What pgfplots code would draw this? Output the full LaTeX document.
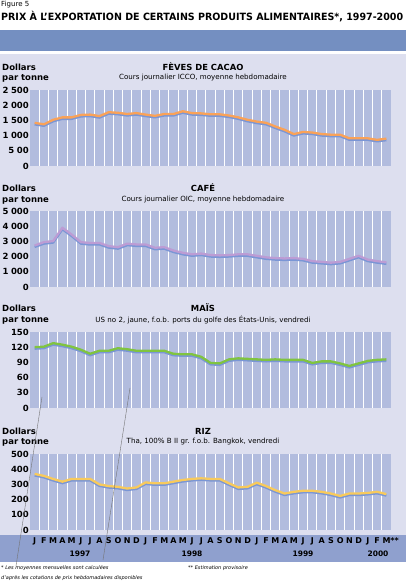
\documentclass[border=0pt]{standalone}
\usepackage{pgfplots}
\pgfplotsset{compat=1.18}
\usepackage{pgfplotstable}
\usepackage{graphicx}
\usepackage{fontspec}
\setmainfont{DejaVu Sans}

\definecolor{plotbg}{RGB}{178,188,222}
\definecolor{panelbg}{RGB}{221,223,239}
\definecolor{headbar}{RGB}{116,143,193}
\definecolor{band}{RGB}{143,160,206}
\definecolor{shadow}{RGB}{122,150,214}
\definecolor{cacaoc}{RGB}{250,162,88}
\definecolor{cafec}{RGB}{188,156,212}
\definecolor{maisc}{RGB}{128,196,64}
\definecolor{rizc}{RGB}{248,202,92}

\newcommand\ts{\hspace{2.6pt}}

% monthly averages, Jan 1997 = 0 ... Mar 2000 = 38
\pgfplotstableread{
m v
0 1420
1 1370
2 1520
3 1600
4 1600
5 1680
6 1690
7 1640
8 1770
9 1750
10 1710
11 1740
12 1690
13 1650
14 1710
15 1710
16 1800
17 1740
18 1730
19 1700
20 1700
21 1660
22 1600
23 1520
24 1460
25 1420
26 1300
27 1190
28 1050
29 1120
30 1100
31 1050
32 1030
33 1030
34 910
35 910
36 910
37 860
38 900
}\cacao

\pgfplotstableread{
m v
0 2730
1 2950
2 3020
3 3900
4 3450
5 2950
6 2890
7 2900
8 2690
9 2620
10 2850
11 2800
12 2800
13 2580
14 2620
15 2400
16 2250
17 2150
18 2200
19 2100
20 2080
21 2100
22 2150
23 2150
24 2050
25 1950
26 1900
27 1880
28 1900
29 1850
30 1700
31 1650
32 1600
33 1650
34 1850
35 2050
36 1800
37 1700
38 1620
}\cafe

\pgfplotstableread{
m v
0 120
1 121
2 128
3 125
4 121
5 115
6 107
7 113
8 113
9 118
10 116
11 113
12 113
13 113
14 113
15 107
16 106
17 106
18 101
19 89
20 88
21 96
22 98
23 97
24 96
25 95
26 96
27 95
28 95
29 95
30 89
31 92
32 92
33 88
34 83
35 88
36 93
37 95
38 96
}\mais

\pgfplotstableread{
m v
0 369
1 356
2 336
3 318
4 336
5 336
6 336
7 300
8 289
9 284
10 273
11 280
12 313
13 307
14 307
15 318
16 329
17 336
18 340
19 336
20 336
21 307
22 280
23 284
24 311
25 289
26 262
27 240
28 251
29 258
30 258
31 251
32 240
33 224
34 240
35 240
36 244
37 251
38 236
}\riz

\pgfplotsset{panel/.style={
  scale only axis, width=361pt, height=76pt,
  anchor=south west,
  xmin=-0.5, xmax=38.5, ymin=0,
  axis background/.style={fill=plotbg},
  axis line style={draw=none},
  major tick length=0pt,
  xtick={0.5,1.5,...,37.5}, xticklabels={},
  xmajorgrids, major grid style={white, line width=0.9pt},
  yticklabel style={font=\bfseries\fontsize{8.5}{9}\selectfont, inner sep=1pt},
  every axis plot/.append style={line width=2.3pt, no markers, line join=round},
}}

\begin{document}
\begin{tikzpicture}[x=1pt,y=1pt]
\path[use as bounding box] (0,0) rectangle (406,583);
\fill[headbar] (0,532) rectangle (406,553);
\fill[panelbg] (0,48) rectangle (406,529);
\fill[band] (0,21) rectangle (406,48);

\node[anchor=west, inner sep=0, font=\fontsize{7}{8}\selectfont] at (1,578) {Figure 5};
\node[anchor=west, inner sep=0] at (1,566)
  {\resizebox{402pt}{\height}{\fontsize{10}{12}\selectfont\bfseries PRIX À L'EXPORTATION DE CERTAINS PRODUITS ALIMENTAIRES*, 1997-2000}};

% panel headings
\foreach \yt/\ys/\ti/\su in {
  516/505/{FÈVES DE CACAO}/{Cours journalier ICCO, moyenne hebdomadaire},
  395/383/{CAFÉ}/{Cours journalier OIC, moyenne hebdomadaire},
  275/263/{MAÏS}/{US no 2, jaune, f.o.b. ports du golfe des États-Unis, vendredi},
  152/141/{RIZ}/{Tha, 100\% B II gr. f.o.b. Bangkok, vendredi}} {
  \node[anchor=west, inner sep=0, font=\bfseries\fontsize{8.5}{9}\selectfont] at (2,\yt) {Dollars};
  \node[anchor=west, inner sep=0, font=\bfseries\fontsize{8.5}{9}\selectfont] at (2,\ys) {par tonne};
  \node[inner sep=0, font=\bfseries\fontsize{8.4}{9}\selectfont] at (203,\yt) {\ti};
  \node[inner sep=0, font=\fontsize{7.1}{8}\selectfont] at (203,\ys) {\su};
}

\begin{axis}[panel, at={(30pt,417pt)}, ymax=2500,
  ytick={0,500,...,2500},
  yticklabels={0,5\ts 00,1\ts 000,1\ts 500,2\ts 000,2\ts 500}]
  \addplot[shadow, yshift=-1.5pt] table[x=m,y=v]{\cacao};
  \addplot[cacaoc] table[x=m,y=v]{\cacao};
\end{axis}

\begin{axis}[panel, at={(30pt,296pt)}, ymax=5000,
  ytick={0,1000,...,5000},
  yticklabels={0,1\ts 000,2\ts 000,3\ts 000,4\ts 000,5\ts 000}]
  \addplot[shadow, yshift=-1.5pt] table[x=m,y=v]{\cafe};
  \addplot[cafec] table[x=m,y=v]{\cafe};
\end{axis}

\begin{axis}[panel, at={(30pt,175pt)}, ymax=150,
  ytick={0,30,...,150},
  yticklabels={0,30,60,90,120,150}]
  \addplot[shadow, yshift=-1.5pt] table[x=m,y=v]{\mais};
  \addplot[maisc] table[x=m,y=v]{\mais};
\end{axis}

\begin{axis}[panel, at={(30pt,53pt)}, ymax=500,
  ytick={0,100,...,500},
  yticklabels={0,100,200,300,400,500}]
  \addplot[shadow, yshift=-1.5pt] table[x=m,y=v]{\riz};
  \addplot[rizc] table[x=m,y=v]{\riz};
\end{axis}

% month and year labels
\foreach \mo [count=\i from 0] in {J,F,M,A,M,J,J,A,S,O,N,D,J,F,M,A,M,J,J,A,S,O,N,D,J,F,M,A,M,J,J,A,S,O,N,D,J,F,M\rlap{**}}
  \node[inner sep=0, font=\bfseries\fontsize{8}{9}\selectfont] at ({34.6+9.26*\i},42) {\mo};
\foreach \yr/\xx in {1997/80,1998/192,1999/303,2000/378}
  \node[inner sep=0, font=\bfseries\fontsize{7.5}{9}\selectfont] at (\xx,29) {\yr};

% footnotes
\node[anchor=west, inner sep=0, font=\itshape\fontsize{5}{6}\selectfont] at (1,15) {* Les moyennes mensuelles sont calculées};
\node[anchor=west, inner sep=0, font=\itshape\fontsize{5}{6}\selectfont] at (1,5) {d'après les cotations de prix hebdomadaires disponibles};
\node[anchor=west, inner sep=0, font=\itshape\fontsize{5}{6}\selectfont] at (188,15) {** Estimation provisoire};

\draw[black!55, line width=0.4pt] (16,17) -- (42,186);
\draw[black!55, line width=0.4pt] (103,23) -- (130,195);
\end{tikzpicture}
\end{document}
